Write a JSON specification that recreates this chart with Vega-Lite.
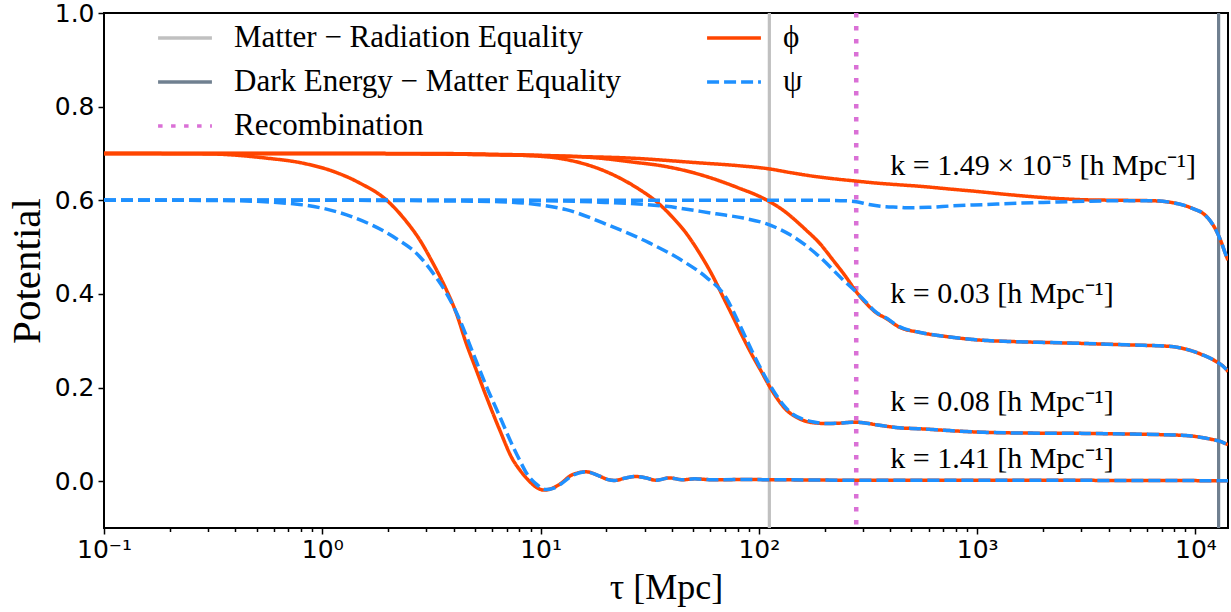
{
  "$schema": "https://vega.github.io/schema/vega-lite/v6.json",
  "width": 1124,
  "height": 515,
  "autosize": {"type": "none"},
  "padding": {"left": 104, "top": 13, "right": 3, "bottom": 84},
  "background": "white",
  "config": {
    "view": {"stroke": "black", "strokeWidth": 2},
    "axis": {"grid": false, "domain": false, "tickColor": "black", "tickWidth": 1.5, "labelColor": "black", "titleColor": "black", "titleFontWeight": "normal"},
    "legend": {
      "orient": "none", "legendX": 52, "legendY": -4, "columns": 2, "symbolType": "stroke",
      "symbolSize": 2900, "symbolStrokeWidth": 3.5, "labelFont": "Liberation Serif", "labelFontSize": 31,
      "labelColor": "black", "labelLimit": 900, "labelOffset": 20, "rowPadding": 0, "columnPadding": 78
    }
  },
  "datasets": {
    "events": [
      {"t": 111.7, "series": "Matter − Radiation Equality"},
      {"t": 12770, "series": "Dark Energy − Matter Equality"},
      {"t": 279.3, "series": "Recombination"}
    ],
    "labels": [
      {"t": 400, "v": 0.655, "text": "k = 1.49 × 10⁻⁵ [h Mpc⁻¹]"},
      {"t": 400, "v": 0.381, "text": "k = 0.03 [h Mpc⁻¹]"},
      {"t": 400, "v": 0.149, "text": "k = 0.08 [h Mpc⁻¹]"},
      {"t": 400, "v": 0.029, "text": "k = 1.41 [h Mpc⁻¹]"}
    ],
    "curves": [
      {"k":"a","s":"ϕ","t":0.1,"v":0.700},{"k":"a","s":"ϕ","t":1,"v":0.700},{"k":"a","s":"ϕ","t":3,"v":0.699},{"k":"a","s":"ϕ","t":6.5,"v":0.697},{"k":"a","s":"ϕ","t":13,"v":0.694},{"k":"a","s":"ϕ","t":26,"v":0.690},{"k":"a","s":"ϕ","t":53,"v":0.680},{"k":"a","s":"ϕ","t":80,"v":0.674},{"k":"a","s":"ϕ","t":111.7,"v":0.667},{"k":"a","s":"ϕ","t":140,"v":0.659},{"k":"a","s":"ϕ","t":180,"v":0.651},{"k":"a","s":"ϕ","t":230,"v":0.645},{"k":"a","s":"ϕ","t":279,"v":0.641},{"k":"a","s":"ϕ","t":340,"v":0.637},{"k":"a","s":"ϕ","t":440,"v":0.633},{"k":"a","s":"ϕ","t":543,"v":0.630},{"k":"a","s":"ϕ","t":750,"v":0.624},{"k":"a","s":"ϕ","t":988,"v":0.619},{"k":"a","s":"ϕ","t":1400,"v":0.612},{"k":"a","s":"ϕ","t":1860,"v":0.607},{"k":"a","s":"ϕ","t":2500,"v":0.603},{"k":"a","s":"ϕ","t":3150,"v":0.601},{"k":"a","s":"ϕ","t":4500,"v":0.600},{"k":"a","s":"ϕ","t":6350,"v":0.599},{"k":"a","s":"ϕ","t":7600,"v":0.596},{"k":"a","s":"ϕ","t":9040,"v":0.588},{"k":"a","s":"ϕ","t":10000,"v":0.580},{"k":"a","s":"ϕ","t":10760,"v":0.573},{"k":"a","s":"ϕ","t":11600,"v":0.558},{"k":"a","s":"ϕ","t":12400,"v":0.537},{"k":"a","s":"ϕ","t":13100,"v":0.512},{"k":"a","s":"ϕ","t":13770,"v":0.484},{"k":"a","s":"ϕ","t":14100,"v":0.472},
      {"k":"b","s":"ϕ","t":0.1,"v":0.700},{"k":"b","s":"ϕ","t":3,"v":0.700},{"k":"b","s":"ϕ","t":6.5,"v":0.698},{"k":"b","s":"ϕ","t":10,"v":0.696},{"k":"b","s":"ϕ","t":18.6,"v":0.690},{"k":"b","s":"ϕ","t":26,"v":0.682},{"k":"b","s":"ϕ","t":37.6,"v":0.672},{"k":"b","s":"ϕ","t":50,"v":0.659},{"k":"b","s":"ϕ","t":63.7,"v":0.644},{"k":"b","s":"ϕ","t":80,"v":0.627},{"k":"b","s":"ϕ","t":104,"v":0.605},{"k":"b","s":"ϕ","t":128,"v":0.580},{"k":"b","s":"ϕ","t":164,"v":0.537},{"k":"b","s":"ϕ","t":190,"v":0.508},{"k":"b","s":"ϕ","t":218,"v":0.473},{"k":"b","s":"ϕ","t":250,"v":0.437},{"k":"b","s":"ϕ","t":279,"v":0.405},{"k":"b","s":"ϕ","t":310,"v":0.380},{"k":"b","s":"ϕ","t":344,"v":0.360},{"k":"b","s":"ϕ","t":382,"v":0.348},{"k":"b","s":"ϕ","t":440,"v":0.329},{"k":"b","s":"ϕ","t":543,"v":0.318},{"k":"b","s":"ϕ","t":750,"v":0.308},{"k":"b","s":"ϕ","t":988,"v":0.302},{"k":"b","s":"ϕ","t":1500,"v":0.298},{"k":"b","s":"ϕ","t":2200,"v":0.296},{"k":"b","s":"ϕ","t":3150,"v":0.294},{"k":"b","s":"ϕ","t":5000,"v":0.291},{"k":"b","s":"ϕ","t":7590,"v":0.288},{"k":"b","s":"ϕ","t":9040,"v":0.282},{"k":"b","s":"ϕ","t":10760,"v":0.270},{"k":"b","s":"ϕ","t":12400,"v":0.256},{"k":"b","s":"ϕ","t":13770,"v":0.240},{"k":"b","s":"ϕ","t":14100,"v":0.234},
      {"k":"c","s":"ϕ","t":0.1,"v":0.700},{"k":"c","s":"ϕ","t":1,"v":0.700},{"k":"c","s":"ϕ","t":3,"v":0.699},{"k":"c","s":"ϕ","t":6.5,"v":0.697},{"k":"c","s":"ϕ","t":9.2,"v":0.695},{"k":"c","s":"ϕ","t":13.1,"v":0.687},{"k":"c","s":"ϕ","t":20.7,"v":0.658},{"k":"c","s":"ϕ","t":28.4,"v":0.623},{"k":"c","s":"ϕ","t":33.8,"v":0.598},{"k":"c","s":"ϕ","t":40,"v":0.565},{"k":"c","s":"ϕ","t":46.4,"v":0.530},{"k":"c","s":"ϕ","t":53,"v":0.490},{"k":"c","s":"ϕ","t":61.5,"v":0.438},{"k":"c","s":"ϕ","t":68,"v":0.397},{"k":"c","s":"ϕ","t":75.9,"v":0.352},{"k":"c","s":"ϕ","t":85,"v":0.305},{"k":"c","s":"ϕ","t":93.7,"v":0.267},{"k":"c","s":"ϕ","t":103,"v":0.233},{"k":"c","s":"ϕ","t":111.7,"v":0.203},{"k":"c","s":"ϕ","t":122,"v":0.175},{"k":"c","s":"ϕ","t":133,"v":0.153},{"k":"c","s":"ϕ","t":148,"v":0.137},{"k":"c","s":"ϕ","t":164,"v":0.128},{"k":"c","s":"ϕ","t":185,"v":0.124},{"k":"c","s":"ϕ","t":203,"v":0.123},{"k":"c","s":"ϕ","t":235,"v":0.124},{"k":"c","s":"ϕ","t":269,"v":0.126},{"k":"c","s":"ϕ","t":300,"v":0.125},{"k":"c","s":"ϕ","t":350,"v":0.120},{"k":"c","s":"ϕ","t":440,"v":0.114},{"k":"c","s":"ϕ","t":543,"v":0.112},{"k":"c","s":"ϕ","t":750,"v":0.108},{"k":"c","s":"ϕ","t":988,"v":0.105},{"k":"c","s":"ϕ","t":1500,"v":0.103},{"k":"c","s":"ϕ","t":3150,"v":0.102},{"k":"c","s":"ϕ","t":6000,"v":0.100},{"k":"c","s":"ϕ","t":9040,"v":0.0975},{"k":"c","s":"ϕ","t":10500,"v":0.094},{"k":"c","s":"ϕ","t":11970,"v":0.089},{"k":"c","s":"ϕ","t":13000,"v":0.085},{"k":"c","s":"ϕ","t":13770,"v":0.080},{"k":"c","s":"ϕ","t":14100,"v":0.078},
      {"k":"d","s":"ϕ","t":0.1,"v":0.700},{"k":"d","s":"ϕ","t":0.3,"v":0.699},{"k":"d","s":"ϕ","t":0.555,"v":0.690},{"k":"d","s":"ϕ","t":0.8,"v":0.680},{"k":"d","s":"ϕ","t":1.118,"v":0.662},{"k":"d","s":"ϕ","t":1.482,"v":0.637},{"k":"d","s":"ϕ","t":1.963,"v":0.601},{"k":"d","s":"ϕ","t":2.425,"v":0.555},{"k":"d","s":"ϕ","t":2.79,"v":0.516},{"k":"d","s":"ϕ","t":3.21,"v":0.466},{"k":"d","s":"ϕ","t":3.70,"v":0.409},{"k":"d","s":"ϕ","t":4.11,"v":0.359},{"k":"d","s":"ϕ","t":4.56,"v":0.295},{"k":"d","s":"ϕ","t":5.07,"v":0.238},{"k":"d","s":"ϕ","t":5.64,"v":0.181},{"k":"d","s":"ϕ","t":6.49,"v":0.110},{"k":"d","s":"ϕ","t":7.46,"v":0.046},{"k":"d","s":"ϕ","t":8.0,"v":0.025},{"k":"d","s":"ϕ","t":8.8,"v":0.002},{"k":"d","s":"ϕ","t":9.55,"v":-0.013},{"k":"d","s":"ϕ","t":10.4,"v":-0.019},{"k":"d","s":"ϕ","t":11.2,"v":-0.016},{"k":"d","s":"ϕ","t":12.2,"v":-0.007},{"k":"d","s":"ϕ","t":14.0,"v":0.014},{"k":"d","s":"ϕ","t":16.2,"v":0.020},{"k":"d","s":"ϕ","t":18.6,"v":0.011},{"k":"d","s":"ϕ","t":20.2,"v":0.004},{"k":"d","s":"ϕ","t":21.8,"v":0.0015},{"k":"d","s":"ϕ","t":24.6,"v":0.007},{"k":"d","s":"ϕ","t":27.4,"v":0.010},{"k":"d","s":"ϕ","t":30.4,"v":0.007},{"k":"d","s":"ϕ","t":33.8,"v":0.002},{"k":"d","s":"ϕ","t":38.9,"v":0.007},{"k":"d","s":"ϕ","t":44.8,"v":0.003},{"k":"d","s":"ϕ","t":50.7,"v":0.005},{"k":"d","s":"ϕ","t":61.5,"v":0.003},{"k":"d","s":"ϕ","t":87,"v":0.0035},{"k":"d","s":"ϕ","t":124,"v":0.003},{"k":"d","s":"ϕ","t":300,"v":0.002},{"k":"d","s":"ϕ","t":1000,"v":0.002},{"k":"d","s":"ϕ","t":14100,"v":0.001},
      {"k":"a","s":"ψ","t":0.1,"v":0.600},{"k":"a","s":"ψ","t":10,"v":0.600},{"k":"a","s":"ψ","t":100,"v":0.600},{"k":"a","s":"ψ","t":200,"v":0.600},{"k":"a","s":"ψ","t":250,"v":0.599},{"k":"a","s":"ψ","t":279,"v":0.597},{"k":"a","s":"ψ","t":320,"v":0.591},{"k":"a","s":"ψ","t":382,"v":0.586},{"k":"a","s":"ψ","t":440,"v":0.585},{"k":"a","s":"ψ","t":472,"v":0.584},{"k":"a","s":"ψ","t":600,"v":0.585},{"k":"a","s":"ψ","t":771,"v":0.588},{"k":"a","s":"ψ","t":1100,"v":0.591},{"k":"a","s":"ψ","t":1560,"v":0.594},{"k":"a","s":"ψ","t":2200,"v":0.596},{"k":"a","s":"ψ","t":3150,"v":0.598},{"k":"a","s":"ψ","t":4500,"v":0.599},{"k":"a","s":"ψ","t":6350,"v":0.599},{"k":"a","s":"ψ","t":7600,"v":0.596},{"k":"a","s":"ψ","t":9040,"v":0.588},{"k":"a","s":"ψ","t":10000,"v":0.580},{"k":"a","s":"ψ","t":10760,"v":0.573},{"k":"a","s":"ψ","t":11600,"v":0.558},{"k":"a","s":"ψ","t":12400,"v":0.537},{"k":"a","s":"ψ","t":13100,"v":0.512},{"k":"a","s":"ψ","t":13770,"v":0.484},{"k":"a","s":"ψ","t":14100,"v":0.472},
      {"k":"b","s":"ψ","t":0.1,"v":0.600},{"k":"b","s":"ψ","t":5,"v":0.600},{"k":"b","s":"ψ","t":10,"v":0.599},{"k":"b","s":"ψ","t":18.6,"v":0.596},{"k":"b","s":"ψ","t":37.6,"v":0.587},{"k":"b","s":"ψ","t":63.7,"v":0.571},{"k":"b","s":"ψ","t":85,"v":0.562},{"k":"b","s":"ψ","t":108,"v":0.550},{"k":"b","s":"ψ","t":143,"v":0.523},{"k":"b","s":"ψ","t":189,"v":0.480},{"k":"b","s":"ψ","t":242,"v":0.431},{"k":"b","s":"ψ","t":279,"v":0.404},{"k":"b","s":"ψ","t":310,"v":0.382},{"k":"b","s":"ψ","t":344,"v":0.361},{"k":"b","s":"ψ","t":382,"v":0.349},{"k":"b","s":"ψ","t":440,"v":0.330},{"k":"b","s":"ψ","t":543,"v":0.318},{"k":"b","s":"ψ","t":750,"v":0.308},{"k":"b","s":"ψ","t":988,"v":0.302},{"k":"b","s":"ψ","t":1500,"v":0.298},{"k":"b","s":"ψ","t":2200,"v":0.296},{"k":"b","s":"ψ","t":3150,"v":0.294},{"k":"b","s":"ψ","t":5000,"v":0.291},{"k":"b","s":"ψ","t":7590,"v":0.288},{"k":"b","s":"ψ","t":9040,"v":0.282},{"k":"b","s":"ψ","t":10760,"v":0.270},{"k":"b","s":"ψ","t":12400,"v":0.256},{"k":"b","s":"ψ","t":13770,"v":0.240},{"k":"b","s":"ψ","t":14100,"v":0.234},
      {"k":"c","s":"ψ","t":0.1,"v":0.600},{"k":"c","s":"ψ","t":1,"v":0.600},{"k":"c","s":"ψ","t":3,"v":0.599},{"k":"c","s":"ψ","t":6.5,"v":0.597},{"k":"c","s":"ψ","t":9.2,"v":0.592},{"k":"c","s":"ψ","t":13.1,"v":0.580},{"k":"c","s":"ψ","t":20.7,"v":0.546},{"k":"c","s":"ψ","t":31.5,"v":0.509},{"k":"c","s":"ψ","t":46.4,"v":0.466},{"k":"c","s":"ψ","t":57.3,"v":0.436},{"k":"c","s":"ψ","t":70.8,"v":0.392},{"k":"c","s":"ψ","t":81.5,"v":0.335},{"k":"c","s":"ψ","t":93.7,"v":0.275},{"k":"c","s":"ψ","t":103,"v":0.237},{"k":"c","s":"ψ","t":115.6,"v":0.196},{"k":"c","s":"ψ","t":130,"v":0.162},{"k":"c","s":"ψ","t":143,"v":0.143},{"k":"c","s":"ψ","t":160,"v":0.132},{"k":"c","s":"ψ","t":176,"v":0.127},{"k":"c","s":"ψ","t":203,"v":0.123},{"k":"c","s":"ψ","t":235,"v":0.124},{"k":"c","s":"ψ","t":269,"v":0.126},{"k":"c","s":"ψ","t":300,"v":0.125},{"k":"c","s":"ψ","t":350,"v":0.120},{"k":"c","s":"ψ","t":440,"v":0.114},{"k":"c","s":"ψ","t":543,"v":0.112},{"k":"c","s":"ψ","t":750,"v":0.108},{"k":"c","s":"ψ","t":988,"v":0.105},{"k":"c","s":"ψ","t":1500,"v":0.103},{"k":"c","s":"ψ","t":3150,"v":0.102},{"k":"c","s":"ψ","t":6000,"v":0.100},{"k":"c","s":"ψ","t":9040,"v":0.0975},{"k":"c","s":"ψ","t":10500,"v":0.094},{"k":"c","s":"ψ","t":11970,"v":0.089},{"k":"c","s":"ψ","t":13000,"v":0.085},{"k":"c","s":"ψ","t":13770,"v":0.080},{"k":"c","s":"ψ","t":14100,"v":0.078},
      {"k":"d","s":"ψ","t":0.1,"v":0.600},{"k":"d","s":"ψ","t":0.2,"v":0.600},{"k":"d","s":"ψ","t":0.39,"v":0.599},{"k":"d","s":"ψ","t":0.787,"v":0.591},{"k":"d","s":"ψ","t":1.38,"v":0.564},{"k":"d","s":"ψ","t":2.10,"v":0.523},{"k":"d","s":"ψ","t":2.79,"v":0.480},{"k":"d","s":"ψ","t":3.21,"v":0.445},{"k":"d","s":"ψ","t":3.70,"v":0.402},{"k":"d","s":"ψ","t":4.26,"v":0.345},{"k":"d","s":"ψ","t":4.90,"v":0.274},{"k":"d","s":"ψ","t":5.64,"v":0.203},{"k":"d","s":"ψ","t":6.49,"v":0.139},{"k":"d","s":"ψ","t":7.46,"v":0.075},{"k":"d","s":"ψ","t":8.0,"v":0.046},{"k":"d","s":"ψ","t":8.6,"v":0.018},{"k":"d","s":"ψ","t":9.5,"v":-0.005},{"k":"d","s":"ψ","t":10.6,"v":-0.018},{"k":"d","s":"ψ","t":11.5,"v":-0.015},{"k":"d","s":"ψ","t":12.4,"v":-0.006},{"k":"d","s":"ψ","t":14.0,"v":0.012},{"k":"d","s":"ψ","t":16.2,"v":0.020},{"k":"d","s":"ψ","t":18.6,"v":0.011},{"k":"d","s":"ψ","t":20.2,"v":0.004},{"k":"d","s":"ψ","t":21.8,"v":0.0015},{"k":"d","s":"ψ","t":24.6,"v":0.007},{"k":"d","s":"ψ","t":27.4,"v":0.010},{"k":"d","s":"ψ","t":30.4,"v":0.007},{"k":"d","s":"ψ","t":33.8,"v":0.002},{"k":"d","s":"ψ","t":38.9,"v":0.007},{"k":"d","s":"ψ","t":44.8,"v":0.003},{"k":"d","s":"ψ","t":50.7,"v":0.005},{"k":"d","s":"ψ","t":61.5,"v":0.003},{"k":"d","s":"ψ","t":87,"v":0.0035},{"k":"d","s":"ψ","t":124,"v":0.003},{"k":"d","s":"ψ","t":300,"v":0.002},{"k":"d","s":"ψ","t":1000,"v":0.002},{"k":"d","s":"ψ","t":14100,"v":0.001}
    ]
  },
  "layer": [
    {
      "data": {"name": "events"},
      "mark": {"type": "rule", "clip": true},
      "encoding": {
        "x": {"field": "t", "type": "quantitative", "scale": {"type": "log", "domain": [0.1, 14100], "nice": false},
          "title": "τ [Mpc]",
          "axis": {
            "values": [0.1,0.2,0.3,0.4,0.5,0.6,0.7,0.8,0.9,1,2,3,4,5,6,7,8,9,10,20,30,40,50,60,70,80,90,100,200,300,400,500,600,700,800,900,1000,2000,3000,4000,5000,6000,7000,8000,9000,10000],
            "labelExpr": "datum.value == 0.1 ? '10⁻¹' : datum.value == 1 ? '10⁰' : datum.value == 10 ? '10¹' : datum.value == 100 ? '10²' : datum.value == 1000 ? '10³' : datum.value == 10000 ? '10⁴' : ''",
            "labelFont": "DejaVu Sans", "labelFontSize": 25, "labelPadding": 3, "labelFlush": false, "labelOverlap": false,
            "tickSize": {"condition": {"test": "indexof([0.1,1,10,100,1000,10000], datum.value) >= 0", "value": 6}, "value": 3.5},
            "titleFont": "Liberation Serif", "titleFontSize": 36, "titlePadding": 8
          }
        },
        "color": {"field": "series", "type": "nominal", "title": null,
          "scale": {"domain": ["Matter − Radiation Equality", "Dark Energy − Matter Equality", "Recombination", "ϕ", "ψ"],
                    "range": ["#c0c0c0", "#708090", "#da70d6", "#ff4500", "#1e90ff"]}},
        "strokeDash": {"field": "series", "type": "nominal", "title": null,
          "scale": {"domain": ["Matter − Radiation Equality", "Dark Energy − Matter Equality", "Recombination", "ϕ", "ψ"],
                    "range": [[1,0],[1,0],[4.5,8.5],[1,0],[12,5]]}},
        "strokeWidth": {"condition": {"test": "datum.series == 'Recombination'", "value": 4.5}, "value": 3.2}
      }
    },
    {
      "data": {"name": "curves"},
      "transform": [{"filter": "datum.s == 'ϕ'"}],
      "mark": {"type": "line", "clip": true, "strokeWidth": 3.5, "interpolate": "monotone"},
      "encoding": {
        "x": {"field": "t", "type": "quantitative", "scale": {"type": "log", "domain": [0.1, 14100], "nice": false}},
        "y": {"field": "v", "type": "quantitative", "scale": {"domain": [-0.1, 1.0], "nice": false, "zero": false},
          "title": "Potential",
          "axis": {"values": [0, 0.2, 0.4, 0.6, 0.8, 1.0], "format": ".1f", "labelFont": "DejaVu Sans", "labelFontSize": 25,
                   "labelPadding": 4, "tickSize": 6, "labelFlush": false,
                   "titleFont": "Liberation Serif", "titleFontSize": 41, "titlePadding": 6}},
        "detail": {"field": "k", "type": "nominal"},
        "color": {"field": "s", "type": "nominal", "title": null,
          "scale": {"domain": ["Matter − Radiation Equality", "Dark Energy − Matter Equality", "Recombination", "ϕ", "ψ"],
                    "range": ["#c0c0c0", "#708090", "#da70d6", "#ff4500", "#1e90ff"]}},
        "strokeDash": {"field": "s", "type": "nominal", "title": null,
          "scale": {"domain": ["Matter − Radiation Equality", "Dark Energy − Matter Equality", "Recombination", "ϕ", "ψ"],
                    "range": [[1,0],[1,0],[4.5,8.5],[1,0],[12,5]]}}
      }
    },
    {
      "data": {"name": "curves"},
      "transform": [{"filter": "datum.s == 'ψ'"}],
      "mark": {"type": "line", "clip": true, "strokeWidth": 3.5, "interpolate": "monotone"},
      "encoding": {
        "x": {"field": "t", "type": "quantitative", "scale": {"type": "log", "domain": [0.1, 14100], "nice": false}},
        "y": {"field": "v", "type": "quantitative", "scale": {"domain": [-0.1, 1.0], "nice": false, "zero": false}},
        "detail": {"field": "k", "type": "nominal"},
        "color": {"field": "s", "type": "nominal", "title": null,
          "scale": {"domain": ["Matter − Radiation Equality", "Dark Energy − Matter Equality", "Recombination", "ϕ", "ψ"],
                    "range": ["#c0c0c0", "#708090", "#da70d6", "#ff4500", "#1e90ff"]}},
        "strokeDash": {"field": "s", "type": "nominal", "title": null,
          "scale": {"domain": ["Matter − Radiation Equality", "Dark Energy − Matter Equality", "Recombination", "ϕ", "ψ"],
                    "range": [[1,0],[1,0],[4.5,8.5],[1,0],[12,5]]}}
      }
    },
    {
      "data": {"name": "labels"},
      "mark": {"type": "text", "align": "left", "baseline": "alphabetic", "font": "Liberation Serif", "fontSize": 30, "color": "black"},
      "encoding": {
        "x": {"field": "t", "type": "quantitative", "scale": {"type": "log", "domain": [0.1, 14100], "nice": false}},
        "y": {"field": "v", "type": "quantitative", "scale": {"domain": [-0.1, 1.0], "nice": false, "zero": false}},
        "text": {"field": "text", "type": "nominal"}
      }
    }
  ]
}
